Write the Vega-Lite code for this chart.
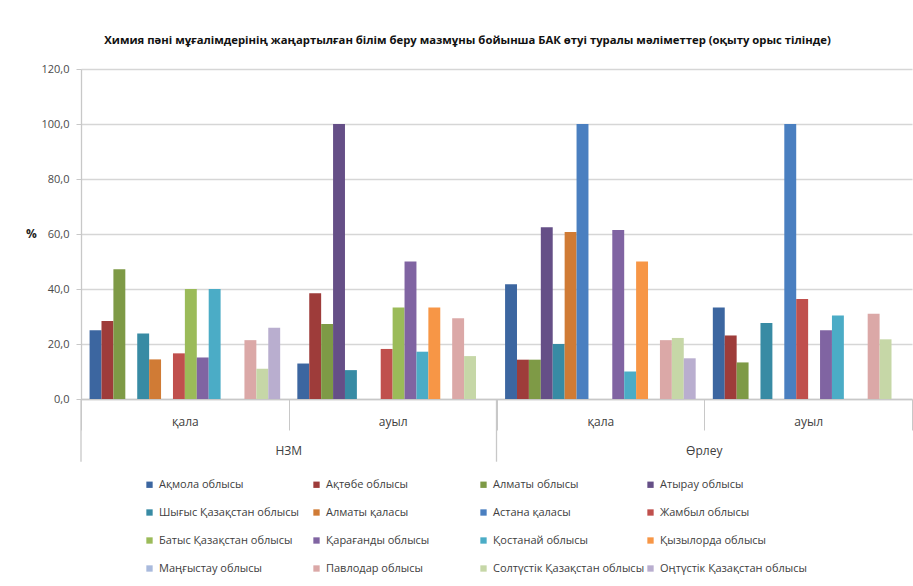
{
  "$schema": "https://vega.github.io/schema/vega-lite/v6.json",
  "width": 831,
  "height": 330,
  "autosize": {"type": "none"},
  "padding": {"left": 81, "top": 69, "right": 1, "bottom": 187},
  "background": "white",
  "config": {"font": "Open Sans", "view": {"stroke": null}},
  "title": {
    "text": "Химия пәні мұғалімдерінің жаңартылған білім беру мазмұны бойынша БАК өтуі туралы мәліметтер (оқыту орыс тілінде)",
    "fontSize": 11.3,
    "fontWeight": "bold",
    "color": "#111111",
    "anchor": "middle",
    "frame": "group",
    "dx": -29,
    "offset": 17
  },
  "layer": [
    {
      "data": {
        "values": [
          {"grp": "НЗМ|қала", "region": "Ақмола облысы", "value": 25.0},
          {"grp": "НЗМ|қала", "region": "Ақтөбе облысы", "value": 28.4},
          {"grp": "НЗМ|қала", "region": "Алматы облысы", "value": 47.2},
          {"grp": "НЗМ|қала", "region": "Шығыс Қазақстан облысы", "value": 23.8},
          {"grp": "НЗМ|қала", "region": "Алматы қаласы", "value": 14.4},
          {"grp": "НЗМ|қала", "region": "Жамбыл облысы", "value": 16.6},
          {"grp": "НЗМ|қала", "region": "Батыс Қазақстан облысы", "value": 40.0},
          {"grp": "НЗМ|қала", "region": "Қарағанды облысы", "value": 15.1},
          {"grp": "НЗМ|қала", "region": "Қостанай облысы", "value": 40.0},
          {"grp": "НЗМ|қала", "region": "Павлодар облысы", "value": 21.4},
          {"grp": "НЗМ|қала", "region": "Солтүстік Қазақстан облысы", "value": 11.0},
          {"grp": "НЗМ|қала", "region": "Оңтүстік Қазақстан облысы", "value": 25.9},
          {"grp": "НЗМ|ауыл", "region": "Ақмола облысы", "value": 12.9},
          {"grp": "НЗМ|ауыл", "region": "Ақтөбе облысы", "value": 38.5},
          {"grp": "НЗМ|ауыл", "region": "Алматы облысы", "value": 27.3},
          {"grp": "НЗМ|ауыл", "region": "Атырау облысы", "value": 100.0},
          {"grp": "НЗМ|ауыл", "region": "Шығыс Қазақстан облысы", "value": 10.5},
          {"grp": "НЗМ|ауыл", "region": "Жамбыл облысы", "value": 18.2},
          {"grp": "НЗМ|ауыл", "region": "Батыс Қазақстан облысы", "value": 33.3},
          {"grp": "НЗМ|ауыл", "region": "Қарағанды облысы", "value": 50.0},
          {"grp": "НЗМ|ауыл", "region": "Қостанай облысы", "value": 17.2},
          {"grp": "НЗМ|ауыл", "region": "Қызылорда облысы", "value": 33.3},
          {"grp": "НЗМ|ауыл", "region": "Павлодар облысы", "value": 29.4},
          {"grp": "НЗМ|ауыл", "region": "Солтүстік Қазақстан облысы", "value": 15.6},
          {"grp": "Өрлеу|қала", "region": "Ақмола облысы", "value": 41.7},
          {"grp": "Өрлеу|қала", "region": "Ақтөбе облысы", "value": 14.3},
          {"grp": "Өрлеу|қала", "region": "Алматы облысы", "value": 14.3},
          {"grp": "Өрлеу|қала", "region": "Атырау облысы", "value": 62.5},
          {"grp": "Өрлеу|қала", "region": "Шығыс Қазақстан облысы", "value": 20.0},
          {"grp": "Өрлеу|қала", "region": "Алматы қаласы", "value": 60.7},
          {"grp": "Өрлеу|қала", "region": "Астана қаласы", "value": 100.0},
          {"grp": "Өрлеу|қала", "region": "Қарағанды облысы", "value": 61.5},
          {"grp": "Өрлеу|қала", "region": "Қостанай облысы", "value": 10.0},
          {"grp": "Өрлеу|қала", "region": "Қызылорда облысы", "value": 50.0},
          {"grp": "Өрлеу|қала", "region": "Павлодар облысы", "value": 21.4},
          {"grp": "Өрлеу|қала", "region": "Солтүстік Қазақстан облысы", "value": 22.2},
          {"grp": "Өрлеу|қала", "region": "Оңтүстік Қазақстан облысы", "value": 14.8},
          {"grp": "Өрлеу|ауыл", "region": "Ақмола облысы", "value": 33.3},
          {"grp": "Өрлеу|ауыл", "region": "Ақтөбе облысы", "value": 23.1},
          {"grp": "Өрлеу|ауыл", "region": "Алматы облысы", "value": 13.3},
          {"grp": "Өрлеу|ауыл", "region": "Шығыс Қазақстан облысы", "value": 27.6},
          {"grp": "Өрлеу|ауыл", "region": "Астана қаласы", "value": 100.0},
          {"grp": "Өрлеу|ауыл", "region": "Жамбыл облысы", "value": 36.4},
          {"grp": "Өрлеу|ауыл", "region": "Қарағанды облысы", "value": 25.0},
          {"grp": "Өрлеу|ауыл", "region": "Қостанай облысы", "value": 30.4},
          {"grp": "Өрлеу|ауыл", "region": "Павлодар облысы", "value": 31.0},
          {"grp": "Өрлеу|ауыл", "region": "Солтүстік Қазақстан облысы", "value": 21.7}
        ]
      },
      "mark": {"type": "bar"},
      "encoding": {
        "x": {
          "field": "grp",
          "type": "nominal",
          "title": null,
          "scale": {"domain": ["НЗМ|қала", "НЗМ|ауыл", "Өрлеу|қала", "Өрлеу|ауыл"], "paddingInner": 0, "paddingOuter": 0},
          "axis": {
            "labelExpr": "split(datum.label, '|')[1]",
            "labelAngle": 0,
            "labelFontSize": 12,
            "labelColor": "#404040",
            "labelPadding": -14,
            "tickBand": "extent",
            "tickSize": 31,
            "tickColor": "#c8c8c8",
            "domainColor": "#c8c8c8",
            "domainWidth": 1.3
          }
        },
        "xOffset": {
          "field": "region",
          "type": "nominal",
          "scale": {
            "domain": ["Ақмола облысы", "Ақтөбе облысы", "Алматы облысы", "Атырау облысы", "Шығыс Қазақстан облысы", "Алматы қаласы", "Астана қаласы", "Жамбыл облысы", "Батыс Қазақстан облысы", "Қарағанды облысы", "Қостанай облысы", "Қызылорда облысы", "Маңғыстау облысы", "Павлодар облысы", "Солтүстік Қазақстан облысы", "Оңтүстік Қазақстан облысы"],
            "paddingInner": 0,
            "paddingOuter": 0.72
          }
        },
        "y": {
          "field": "value",
          "type": "quantitative",
          "title": "%",
          "scale": {"domain": [0, 120], "nice": false, "zero": true},
          "axis": {
            "values": [0, 20, 40, 60, 80, 100, 120],
            "labelExpr": "replace(format(datum.value, '.1f'), '.', ',')",
            "labelFontSize": 11,
            "labelColor": "#4a4a4a",
            "labelPadding": 7,
            "tickSize": 5,
            "tickColor": "#c8c8c8",
            "domainColor": "#c8c8c8",
            "domainWidth": 1.3,
            "gridColor": "#d6d6d6",
            "gridWidth": 1.3,
            "titleAngle": 0,
            "titleFontWeight": "bold",
            "titleFontSize": 12,
            "titleColor": "#222222",
            "titleX": -50,
            "titleY": 164,
            "titleAlign": "center",
            "titleBaseline": "middle"
          }
        },
        "color": {
          "field": "region",
          "type": "nominal",
          "scale": {
            "domain": ["Ақмола облысы", "Ақтөбе облысы", "Алматы облысы", "Атырау облысы", "Шығыс Қазақстан облысы", "Алматы қаласы", "Астана қаласы", "Жамбыл облысы", "Батыс Қазақстан облысы", "Қарағанды облысы", "Қостанай облысы", "Қызылорда облысы", "Маңғыстау облысы", "Павлодар облысы", "Солтүстік Қазақстан облысы", "Оңтүстік Қазақстан облысы"],
            "range": ["#3c66a0", "#9e3c3a", "#7e9a46", "#654f87", "#388ba4", "#d07b35", "#4a7fc0", "#c0504d", "#9bbb59", "#8064a2", "#4bacc6", "#f79646", "#a9badd", "#dba8a7", "#c6d7a7", "#b9aecf"]
          },
          "legend": {
            "orient": "none",
            "legendX": 63,
            "legendY": 410,
            "direction": "horizontal",
            "columns": 4,
            "gridAlign": "all",
            "title": null,
            "symbolType": "square",
            "symbolSize": 40,
            "symbolStrokeWidth": 0,
            "labelFontSize": 11,
            "labelColor": "#404040",
            "labelOffset": 4,
            "rowPadding": 16,
            "columnPadding": -2,
            "labelLimit": 300
          }
        }
      }
    },
    {
      "data": {"values": [{"grp": "НЗМ|қала"}, {"grp": "Өрлеу|қала"}]},
      "mark": {"type": "rule", "color": "#c8c8c8", "strokeWidth": 1.3},
      "encoding": {
        "x": {"field": "grp", "type": "nominal", "title": null, "bandPosition": 0},
        "y": {"datum": 0, "type": "quantitative", "title": null},
        "y2": {"datum": -22.8}
      }
    },
    {
      "data": {"values": [{"grp": "НЗМ|ауыл", "label": "НЗМ"}, {"grp": "Өрлеу|ауыл", "label": "Өрлеу"}]},
      "mark": {"type": "text", "fontSize": 12, "color": "#404040", "baseline": "middle", "align": "center"},
      "encoding": {
        "x": {"field": "grp", "type": "nominal", "title": null, "bandPosition": 0},
        "y": {"datum": -19, "type": "quantitative", "title": null},
        "text": {"field": "label", "type": "nominal"}
      }
    }
  ]
}
